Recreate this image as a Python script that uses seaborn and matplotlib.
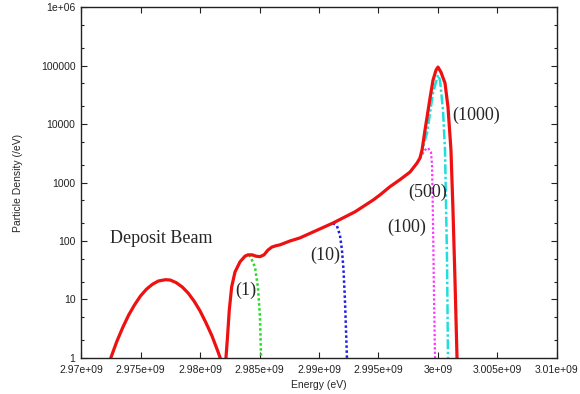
import matplotlib
matplotlib.use("Agg")
import matplotlib.pyplot as plt
import seaborn as sns
import pandas as pd
from matplotlib.ticker import FixedLocator, NullLocator

# ----------------------------
# DATA (energy in eV, density in /eV)
# ----------------------------
deposit_e = [2.97250e9, 2.97300e9, 2.97350e9, 2.97400e9, 2.97450e9, 2.97500e9, 2.97550e9,
             2.97600e9, 2.97650e9, 2.97710e9, 2.97750e9, 2.97800e9, 2.97850e9, 2.97900e9,
             2.97950e9, 2.98000e9, 2.98050e9, 2.98100e9, 2.98150e9, 2.98170e9]
deposit_y = [1, 1.9, 3.3, 5.4, 8.1, 11.5, 15, 18.2, 20.7, 21.8, 21.5, 19.4, 16.4, 12.9,
             9.4, 6.4, 4.0, 2.4, 1.3, 1]

total_e = [2.98218e9, 2.98229e9, 2.98246e9, 2.98266e9, 2.98294e9, 2.98336e9, 2.98378e9,
           2.98403e9, 2.98437e9, 2.98471e9, 2.98504e9, 2.98538e9, 2.98571e9, 2.98605e9,
           2.98639e9, 2.98672e9, 2.98756e9, 2.98840e9, 2.99118e9, 2.99303e9, 2.99454e9,
           2.99513e9, 2.99597e9, 2.99681e9, 2.99765e9, 2.99824e9, 2.99849e9, 2.99866e9,
           2.99891e9, 2.99908e9, 2.99933e9, 2.99958e9, 2.99983e9, 3.00000e9, 3.00025e9,
           3.00059e9, 3.00084e9, 3.00109e9, 3.00126e9, 3.00143e9, 3.00160e9]
total_y = [1, 2.0, 6.6, 16.4, 29.5, 44, 55, 58, 58, 55, 54, 58, 70, 79,
           83, 86, 100, 113, 203, 316, 500, 615, 850, 1120, 1510, 2150, 2630, 3600,
           7900, 13100, 27700, 56000, 83000, 94000, 77000, 50000, 19500, 3600, 340, 21, 1]

t1_e = [2.98412e9, 2.98437e9, 2.98462e9, 2.98487e9, 2.98504e9, 2.98513e9]
t1_y = [58, 47, 36, 16, 5, 1]

t10_e = [2.99118e9, 2.99151e9, 2.99176e9, 2.99193e9, 2.99206e9, 2.99218e9, 2.99227e9, 2.99235e9]
t10_y = [203, 180, 126, 70, 32, 10, 3, 1]

t100_e = [2.99849e9, 2.99891e9, 2.99916e9, 2.99941e9, 2.99950e9, 2.99958e9, 2.99966e9, 2.99975e9]
t100_y = [2630, 3600, 3900, 3300, 2000, 230, 14, 1]

t500_e = [2.99849e9, 2.99908e9, 2.99958e9, 3.00000e9, 3.00017e9, 3.00042e9, 3.00059e9,
          3.00067e9, 3.00076e9, 3.00084e9]
t500_y = [2630, 7000, 34000, 69000, 56000, 17400, 3600, 500, 47, 1]

x_ticks = [2.970e9, 2.975e9, 2.980e9, 2.985e9, 2.990e9, 2.995e9, 3.000e9, 3.005e9, 3.010e9]
x_labels = ["2.97e+09", "2.975e+09", "2.98e+09", "2.985e+09", "2.99e+09", "2.995e+09",
            "3e+09", "3.005e+09", "3.01e+09"]
y_ticks = [1, 10, 100, 1000, 10000, 100000, 1000000]
y_labels = ["1", "10", "100", "1000", "10000", "100000", "1e+06"]

notes = [("Deposit Beam", 2.97244e9, 112, "left"),
         ("(1)", 2.98387e9, 14.5, "center"),
         ("(10)", 2.99050e9, 57.6, "center"),
         ("(100)", 2.99740e9, 174, "center"),
         ("(500)", 2.99916e9, 690, "center"),
         ("(1000)", 3.00320e9, 14200, "center")]

# ----------------------------
# PLOT
# ----------------------------
sns.set_style("ticks")
plt.rcParams["font.family"] = ["Liberation Sans", "DejaVu Sans"]

fig = plt.figure(figsize=(5.8, 3.94), dpi=100)
ax = fig.add_axes([0.1397, 0.0914, 0.8206, 0.8908])

series = [
    (t1_e, t1_y, "#22dd22", (0, (1, 1)), 1.8),
    (t10_e, t10_y, "#2020e0", (0, (1, 1)), 1.8),
    (t100_e, t100_y, "#ff33ff", (0, (1, 1)), 1.6),
    (t500_e, t500_y, "#22dddd", (0, (4, 1, 1, 1)), 1.8),
    (deposit_e, deposit_y, "#ee1111", "-", 2.3),
    (total_e, total_y, "#ee1111", "-", 2.3),
]
for e, y, c, ls, lw in series:
    df = pd.DataFrame({"energy": e, "density": y})
    sns.lineplot(data=df, x="energy", y="density", ax=ax, color=c, linestyle=ls,
                 linewidth=lw, sort=False, estimator=None)

ax.set_yscale("log")
ax.set_xlim(2.97e9, 3.01e9)
ax.set_ylim(1, 1e6)

ax.xaxis.set_major_locator(FixedLocator(x_ticks))
ax.set_xticklabels(x_labels)
ax.xaxis.set_minor_locator(NullLocator())
ax.yaxis.set_major_locator(FixedLocator(y_ticks))
ax.set_yticklabels(y_labels)
minor = [m * 10 ** k for k in range(6) for m in (2, 5)]
ax.yaxis.set_minor_locator(FixedLocator(minor))

ax.tick_params(which="both", direction="in", top=True, right=True, labelsize=7.5,
               width=0.8, colors="#222222")
ax.tick_params(which="major", length=4.5)
ax.tick_params(axis="x", which="major", pad=5)
ax.tick_params(axis="y", which="major", pad=4)
ax.tick_params(which="minor", length=2.5)
for s in ax.spines.values():
    s.set_visible(True)
    s.set_linewidth(1.0)
    s.set_color("#222222")

ax.set_xlabel("Energy (eV)", fontsize=7.5, labelpad=4)
ax.set_ylabel("Particle Density (/eV)", fontsize=7.5, labelpad=13)

for txt, x, y, ha in notes:
    ax.text(x, y, txt, ha=ha, va="center", fontsize=13,
            family=["Liberation Serif", "DejaVu Serif"])

fig.savefig("out.png", dpi=100)
